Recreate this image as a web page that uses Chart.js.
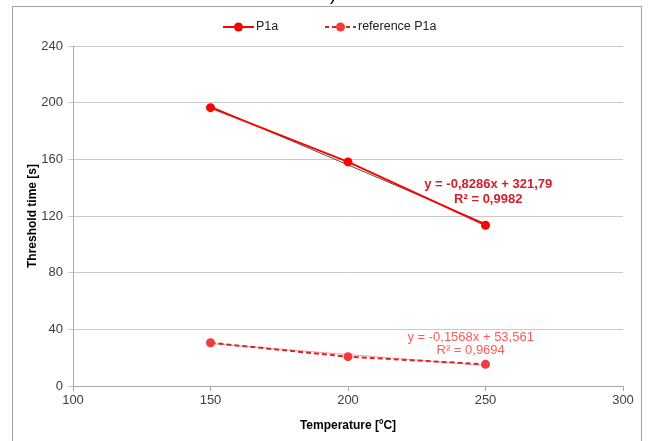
<!DOCTYPE html>
<html>
<head>
<meta charset="utf-8">
<script src="https://cdn.jsdelivr.net/npm/chart.js@4.4.0/dist/chart.umd.min.js"></script>
<style>
  html, body { margin: 0; padding: 0; background: #fff; }
  #wrap { position: relative; width: 652px; height: 441px; }
</style>
</head>
<body>
<div id="wrap"><canvas id="chart" width="652" height="441"></canvas></div>
<script>
// values
const temperatures = [150, 200, 250];
const p1a = [196.5, 158.2, 113.5];
const refP1a = [30.5, 20.7, 15.3];

// trend line ends (at 150 and 250)
const trendX = [150, 250];
const p1aTrend = [197.5, 114.6];
const refTrend = [30.0, 14.4];

const seriesNames = ['P1a', 'reference P1a'];
const eqP1a = ['y = -0,8286x + 321,79', 'R² = 0,9982'];
const eqRef = ['y = -0,1568x + 53,561', 'R² = 0,9694'];

const RED = '#ff0000';
const REF_MARK = '#f03c3c';
const REF_LINE = '#d02828';
const FONT = '"Liberation Sans", Arial, sans-serif';

const toPts = (xs, ys) => xs.map((x, i) => ({ x: x, y: ys[i] }));

// frame, cut title, legend and trend labels
const extras = {
  id: 'extras',
  beforeDraw(chart) {
    const ctx = chart.ctx;
    ctx.save();
    ctx.strokeStyle = '#a0a0a0';
    ctx.lineWidth = 1;
    ctx.strokeRect(12.5, 6.5, 629, 460);
    ctx.fillStyle = '#000';
    ctx.font = '18px ' + FONT;
    ctx.textAlign = 'center';
    ctx.textBaseline = 'alphabetic';
    ctx.fillText('a)', 328, 0);
    ctx.restore();
  },
  afterDraw(chart) {
    const ctx = chart.ctx;
    const xs = chart.scales.x, ys = chart.scales.y;
    ctx.save();

    // legend
    const ly = 27;
    const items = [
      { x: 223, color: RED, mark: RED, dash: [] },
      { x: 325, color: REF_LINE, mark: REF_MARK, dash: [4, 3] }
    ];
    ctx.font = '12.5px ' + FONT;
    ctx.textBaseline = 'middle';
    ctx.textAlign = 'left';
    items.forEach((it, i) => {
      ctx.strokeStyle = it.color;
      ctx.lineWidth = 2;
      ctx.setLineDash(it.dash);
      ctx.beginPath();
      ctx.moveTo(it.x, ly);
      ctx.lineTo(it.x + 31, ly);
      ctx.stroke();
      ctx.setLineDash([]);
      ctx.fillStyle = it.mark;
      ctx.beginPath();
      ctx.arc(it.x + 15.5, ly, 4.5, 0, Math.PI * 2);
      ctx.fill();
      ctx.fillStyle = '#222';
      ctx.fillText(seriesNames[i], it.x + 33, ly);
    });

    // trend equations
    ctx.textAlign = 'center';
    ctx.fillStyle = '#d0202a';
    ctx.font = 'bold 13px ' + FONT;
    ctx.fillText(eqP1a[0], xs.getPixelForValue(251), ys.getPixelForValue(142.5));
    ctx.fillText(eqP1a[1], xs.getPixelForValue(251), ys.getPixelForValue(132));
    ctx.fillStyle = '#ff5a5a';
    ctx.font = '13px ' + FONT;
    ctx.fillText(eqRef[0], xs.getPixelForValue(244.6), ys.getPixelForValue(34.6));
    ctx.fillText(eqRef[1], xs.getPixelForValue(244.6), ys.getPixelForValue(24.8));
    ctx.restore();
  }
};

new Chart(document.getElementById('chart'), {
  type: 'line',
  data: {
    datasets: [
      {
        label: 'P1a trend',
        data: toPts(trendX, p1aTrend),
        borderColor: '#505050',
        borderWidth: 1,
        pointRadius: 0,
        order: 3
      },
      {
        label: 'reference trend',
        data: toPts(trendX, refTrend),
        borderColor: '#f4a0a0',
        borderWidth: 1,
        pointRadius: 0,
        order: 4
      },
      {
        label: seriesNames[0],
        data: toPts(temperatures, p1a),
        borderColor: RED,
        backgroundColor: RED,
        borderWidth: 2,
        pointRadius: 4.5,
        pointBorderWidth: 0,
        order: 1
      },
      {
        label: seriesNames[1],
        data: toPts(temperatures, refP1a),
        borderColor: REF_LINE,
        backgroundColor: REF_MARK,
        pointBackgroundColor: REF_MARK,
        borderWidth: 2,
        borderDash: [5, 3],
        pointRadius: 4.5,
        pointBorderWidth: 0,
        order: 2
      }
    ]
  },
  options: {
    responsive: false,
    animation: false,
    layout: { padding: { left: 20, right: 29, top: 46, bottom: 0 } },
    plugins: {
      legend: { display: false },
      tooltip: { enabled: false }
    },
    scales: {
      x: {
        type: 'linear',
        min: 100,
        max: 300,
        afterFit: s => { s.height = 55; },
        ticks: { stepSize: 50, color: '#404040', font: { family: FONT, size: 13 }, padding: 2 },
        grid: { drawOnChartArea: false, drawTicks: true, tickLength: 5, color: '#a8a8a8' },
        border: { color: '#a8a8a8' },
        title: { display: true, text: 'Temperature [ºC]', color: '#000', font: { family: FONT, size: 12, weight: 'bold' }, padding: { top: 0, bottom: 8 } }
      },
      y: {
        min: 0,
        max: 240,
        afterFit: s => { s.width = 53; },
        ticks: { stepSize: 40, color: '#404040', font: { family: FONT, size: 13 }, padding: 5 },
        grid: { color: '#c8c8c8', tickLength: 5 },
        border: { color: '#a8a8a8' },
        title: { display: true, text: 'Threshold time [s]', color: '#000', font: { family: FONT, size: 12, weight: 'bold' }, padding: { top: 5, bottom: 0 } }
      }
    }
  },
  plugins: [extras]
});
</script>
</body>
</html>
